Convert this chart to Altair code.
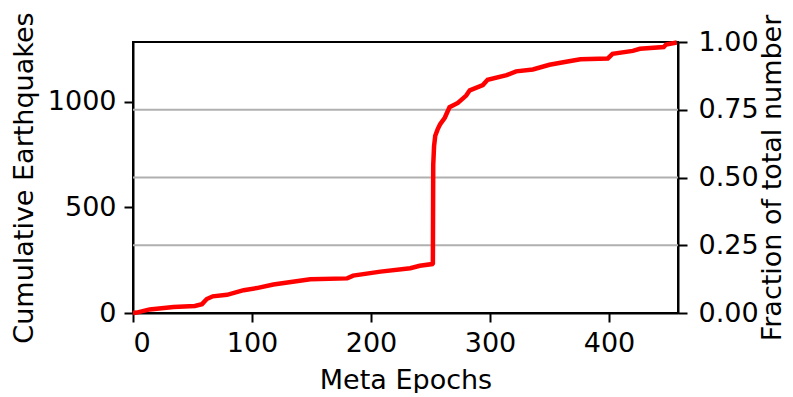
import altair as alt
import pandas as pd

epochs = [0, 3, 14, 34, 52, 58, 62, 67, 79, 93, 104, 118, 149, 180, 185, 208, 233, 241,
          251.5, 252, 252.3, 253, 254, 256, 258, 262, 266, 273, 280, 283, 294, 298, 314,
          322, 336, 350, 364, 376, 399, 403, 420, 426, 446, 448, 457]
counts = [0, 2, 17, 28, 33, 42, 66, 79, 86, 108, 118, 135, 160, 164, 177, 196, 212, 224,
          232, 235, 700, 790, 840, 870, 893, 925, 975, 995, 1030, 1055, 1080, 1105, 1127,
          1145, 1154, 1176, 1190, 1202, 1206, 1228, 1242, 1252, 1260, 1272, 1282]
total = 1284
x_max = 458
x_ticks = [0, 100, 200, 300, 400]
left_ticks = [0, 500, 1000]
right_ticks = [0, 0.25, 0.5, 0.75, 1.0]
grid_fracs = [0.25, 0.5, 0.75]

df = pd.DataFrame({"epoch": epochs, "count": counts})
grid_df = pd.DataFrame({"fraction": grid_fracs})

FONT = "DejaVu Sans"
FS = 27
W, H = 545, 271

axis_common = dict(
    domainColor="black", domainWidth=2, tickColor="black", tickWidth=2, tickSize=9,
    labelFont=FONT, labelFontSize=FS, labelColor="black",
    titleFont=FONT, titleFontSize=FS, titleColor="black", titleFontWeight="normal",
    titleBaseline="middle", titleAlign="center",
    grid=False,
)

grid = alt.Chart(grid_df).mark_rule(color="#b0b0b0", strokeWidth=2).encode(
    y=alt.Y("fraction:Q",
            scale=alt.Scale(domain=[0, 1], nice=False, zero=True),
            axis=alt.Axis(orient="right", values=right_ticks, format=".2f",
                          labelPadding=11,
                          title="Fraction of total number", titleAngle=270,
                          titleX=94, titleY=H / 2,
                          **axis_common))
)

line = alt.Chart(df).mark_line(color="red", strokeWidth=4.5).encode(
    x=alt.X("epoch:Q",
            scale=alt.Scale(domain=[0, x_max], nice=False, zero=True),
            axis=alt.Axis(values=x_ticks, format="d", labelPadding=8,
                          title="Meta Epochs",
                          titleX=W / 2, titleY=67, **axis_common)),
    y=alt.Y("count:Q",
            scale=alt.Scale(domain=[0, total], nice=False, zero=True),
            axis=alt.Axis(orient="left", values=left_ticks, format="d", labelPadding=8,
                          title="Cumulative Earthquakes", titleAngle=270,
                          titleX=-109, titleY=H / 2, **axis_common)),
)

chart = alt.layer(grid, line).resolve_scale(y="independent").properties(
    width=W, height=H,
    autosize=alt.AutoSizeParams(type="none"),
    padding={"left": 125, "top": 34, "right": 107, "bottom": 80},
    background="white",
).configure_view(stroke="black", strokeWidth=2)

chart.save("out.html", embed_options={"renderer": "svg", "actions": False})
